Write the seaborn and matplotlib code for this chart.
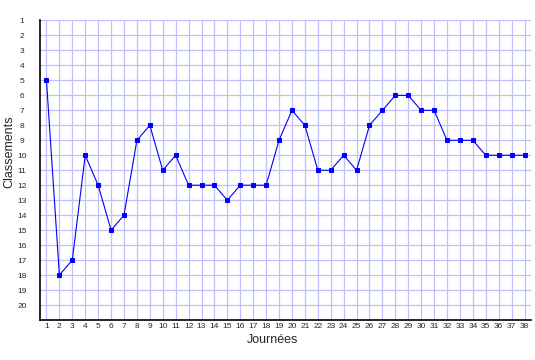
import pandas as pd
import matplotlib
matplotlib.use("Agg")
import matplotlib.pyplot as plt
import seaborn as sns

# Journees and ranking (classement)
journees = list(range(1, 39))
classements = [5, 18, 17, 10, 12, 15, 14, 9, 8, 11,
               10, 12, 12, 12, 13, 12, 12, 12, 9, 7,
               8, 11, 11, 10, 11, 8, 7, 6, 6, 7,
               7, 9, 9, 9, 10, 10, 10, 10]

df = pd.DataFrame({"Journees": journees, "Classement": classements})

sns.set_style("white")
plt.rcParams["font.family"] = ["Liberation Sans", "DejaVu Sans"]

fig = plt.figure(figsize=(5.35, 3.6), dpi=100)
ax = fig.add_axes([40 / 535, 1 - 320 / 360, 491 / 535, 299.5 / 360])

sns.lineplot(data=df, x="Journees", y="Classement", ax=ax,
             color="#0000ff", linewidth=0.8, marker="s", markersize=2.6,
             markeredgecolor="#0000ff", zorder=3)

ax.set_xlim(0.5, 38.5)
ax.set_ylim(21, 1)
ax.set_xticks(journees)
ax.set_yticks(range(1, 21))
ax.grid(True, color="#c0c0ff", linewidth=0.9)
ax.set_axisbelow(True)

for s in ["top", "right"]:
    ax.spines[s].set_visible(False)
for s in ["left", "bottom"]:
    ax.spines[s].set_color("black")
    ax.spines[s].set_linewidth(1.2)

ax.tick_params(axis="x", length=0, pad=2.5, labelsize=6)
ax.tick_params(axis="y", length=0, pad=13, labelsize=6)
for lbl in ax.get_yticklabels():
    lbl.set_horizontalalignment("center")

ax.set_xlabel("")
ax.set_ylabel("")
fig.text(273 / 535, 1 - 340 / 360, "Journées", ha="center", va="center", fontsize=9)
fig.text(9 / 535, 1 - 152 / 360, "Classements", ha="center", va="center",
         rotation=90, fontsize=9)

fig.savefig("out.png", dpi=100)
